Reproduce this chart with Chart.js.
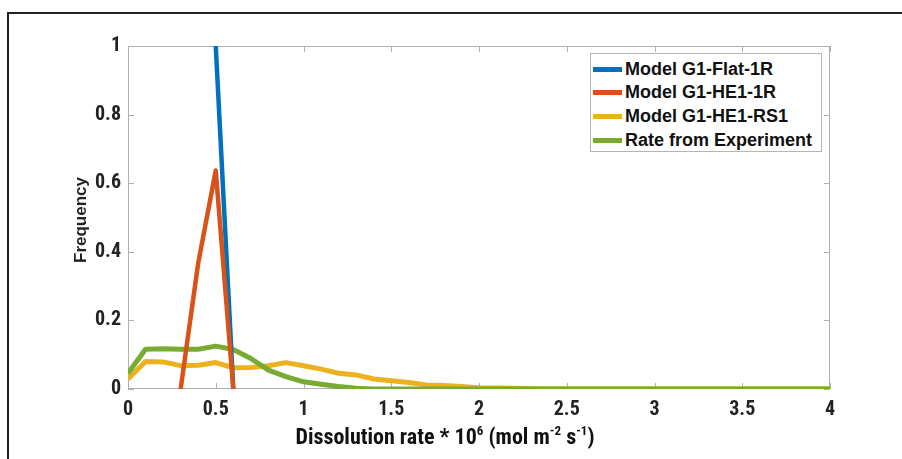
<!DOCTYPE html>
<html>
<head>
<meta charset="utf-8">
<script src="https://cdn.jsdelivr.net/npm/chart.js@4"></script>
<style>
  body { margin: 0; background: #fff; }
  #wrap { position: relative; width: 902px; height: 459px; overflow: hidden; background: #fff; }
  #frame { position: absolute; left: 7px; top: 12px; width: 1000px; height: 600px;
           border-top: 2px solid #222; border-left: 2px solid #222; }
  canvas { position: absolute; left: 0; top: 0; }
  .narrow { font-family: 'Liberation Sans Narrow', 'Roboto Condensed', 'Liberation Sans', sans-serif; font-weight: bold; }
  #xtitle { position: absolute; left: 0; width: 890px; top: 424px; text-align: center; font-size: 22px; color: #111; }
  #xtitle sup { font-size: 13px; position: relative; top: -1px; vertical-align: top; }
  #ytitle { position: absolute; left: 81px; top: 220px; transform: translate(-50%, -50%) rotate(-90deg);
            font-family: 'Liberation Sans', Arial, sans-serif; font-weight: bold; font-size: 17px; color: #222; white-space: nowrap; }
  #legend { position: absolute; left: 590px; top: 53px; width: 230px; height: 97px; border: 1px solid #b5b5b5; background: #fff;
            font-family: 'Liberation Sans', Arial, sans-serif; font-weight: bold; font-size: 18px; color: #111; }
  .row { position: absolute; left: 2px; height: 20px; display: flex; align-items: center; white-space: nowrap; }
  .swatch { width: 29px; height: 5px; margin-right: 3px; }
</style>
</head>
<body>
<div id="wrap">
  <div id="frame"></div>
  <canvas id="chart" width="902" height="459"></canvas>
  <div id="ytitle">Frequency</div>
  <div id="xtitle" class="narrow">Dissolution rate * 10<sup>6</sup> (mol m<sup>-2</sup> s<sup>-1</sup>)</div>
  <div id="legend"></div>
</div>
<script>
// bin centres (x axis, rate * 1e6)
const bins = [0, 0.1, 0.2, 0.3, 0.4, 0.5, 0.6, 0.7, 0.8, 0.9, 1.0,
  1.1, 1.2, 1.3, 1.4, 1.5, 1.6, 1.7, 1.8, 1.9, 2.0,
  2.1, 2.2, 2.3, 2.4, 2.5, 2.6, 2.7, 2.8, 2.9, 3.0,
  3.1, 3.2, 3.3, 3.4, 3.5, 3.6, 3.7, 3.8, 3.9, 4.0];

// series values
const flatBins = [0.5, 0.6];
const flatFreq = [1.0, 0.0];
const he1Bins = [0.3, 0.4, 0.5, 0.6];
const he1Freq = [0.0, 0.367, 0.637, 0.0];
const rs1Freq = [0.029, 0.080, 0.079, 0.068, 0.069, 0.077, 0.062, 0.063, 0.068, 0.077, 0.068,
  0.058, 0.046, 0.041, 0.029, 0.024, 0.019, 0.012, 0.010, 0.007, 0.004,
  0.003, 0.002, 0.001, 0, 0, 0, 0, 0, 0, 0,
  0, 0, 0, 0, 0, 0, 0, 0, 0, 0];
const expFreq = [0.046, 0.116, 0.117, 0.116, 0.116, 0.125, 0.115, 0.089, 0.055, 0.036, 0.021,
  0.014, 0.007, 0.002, 0, 0, 0, 0, 0, 0, 0,
  0, 0, 0, 0, 0, 0, 0, 0, 0, 0,
  0, 0, 0, 0, 0, 0, 0, 0, 0, 0];

const xTicks = [0, 0.5, 1, 1.5, 2, 2.5, 3, 3.5, 4];
const yTicks = [0, 0.2, 0.4, 0.6, 0.8, 1];

const seriesNames = ['Model G1-Flat-1R', 'Model G1-HE1-1R', 'Model G1-HE1-RS1', 'Rate from Experiment'];
const seriesColors = ['#0072BD', '#D95319', '#EDB120', '#77AC30'];

function toPoints(xs, ys) {
  return xs.map((x, i) => ({ x: x, y: ys[i] }));
}

// legend as html box inside the axes
const legendEl = document.getElementById('legend');
seriesNames.forEach((name, i) => {
  const row = document.createElement('div');
  row.className = 'row';
  row.style.top = (5 + i * 23.7) + 'px';
  row.innerHTML = '<span class="swatch" style="background:' + seriesColors[i] + '"></span>' + name;
  legendEl.appendChild(row);
});

// matlab style box with inward ticks
const boxPlugin = {
  id: 'boxPlugin',
  beforeDatasetsDraw(chart) {
    const ctx = chart.ctx;
    const a = chart.chartArea;
    const xs = chart.scales.x, ys = chart.scales.y;
    ctx.save();
    ctx.strokeStyle = '#b0b0b0';
    ctx.lineWidth = 1;
    ctx.strokeRect(a.left + 0.5, a.top + 0.5, a.right - a.left - 1, a.bottom - a.top - 1);
    ctx.beginPath();
    xTicks.forEach(v => {
      const px = Math.round(xs.getPixelForValue(v)) + 0.5;
      ctx.moveTo(px, a.bottom); ctx.lineTo(px, a.bottom - 6);
      ctx.moveTo(px, a.top); ctx.lineTo(px, a.top + 6);
    });
    yTicks.forEach(v => {
      const py = Math.round(ys.getPixelForValue(v)) + 0.5;
      ctx.moveTo(a.left, py); ctx.lineTo(a.left + 6, py);
      ctx.moveTo(a.right, py); ctx.lineTo(a.right - 6, py);
    });
    ctx.stroke();
    ctx.restore();
  }
};

const tickFont = { family: "'Liberation Sans Narrow', 'Roboto Condensed', 'Liberation Sans', sans-serif", size: 20, weight: 'bold' };

const ctx = document.getElementById('chart').getContext('2d');
const chart = new Chart(ctx, {
  type: 'line',
  data: {
    datasets: [
      { label: seriesNames[0], data: toPoints(flatBins, flatFreq), borderColor: seriesColors[0], borderWidth: 4.5, order: 1 },
      { label: seriesNames[1], data: toPoints(he1Bins, he1Freq), borderColor: seriesColors[1], borderWidth: 4.5, order: 0 },
      { label: seriesNames[2], data: toPoints(bins, rs1Freq), borderColor: seriesColors[2], borderWidth: 5, order: 3 },
      { label: seriesNames[3], data: toPoints(bins, expFreq), borderColor: seriesColors[3], borderWidth: 5, order: 2 }
    ]
  },
  options: {
    responsive: false,
    animation: false,
    elements: { point: { radius: 0 }, line: { tension: 0, borderJoinStyle: 'round' } },
    layout: { padding: { left: 0, top: 46, right: 72, bottom: 0 } },
    plugins: { legend: { display: false }, tooltip: { enabled: false } },
    scales: {
      x: {
        type: 'linear', min: 0, max: 4,
        afterBuildTicks: s => { s.ticks = xTicks.map(v => ({ value: v })); },
        afterFit: s => { s.height = 70; },
        grid: { display: false, drawTicks: false },
        border: { display: false },
        ticks: { font: tickFont, color: '#222', padding: 9, maxRotation: 0, callback: v => String(v) }
      },
      y: {
        min: 0, max: 1,
        afterBuildTicks: s => { s.ticks = yTicks.map(v => ({ value: v })); },
        afterFit: s => { s.width = 128; },
        grid: { display: false, drawTicks: false },
        border: { display: false },
        ticks: { font: tickFont, color: '#222', padding: 7, callback: v => String(v) }
      }
    }
  },
  plugins: [boxPlugin]
});
</script>
</body>
</html>
